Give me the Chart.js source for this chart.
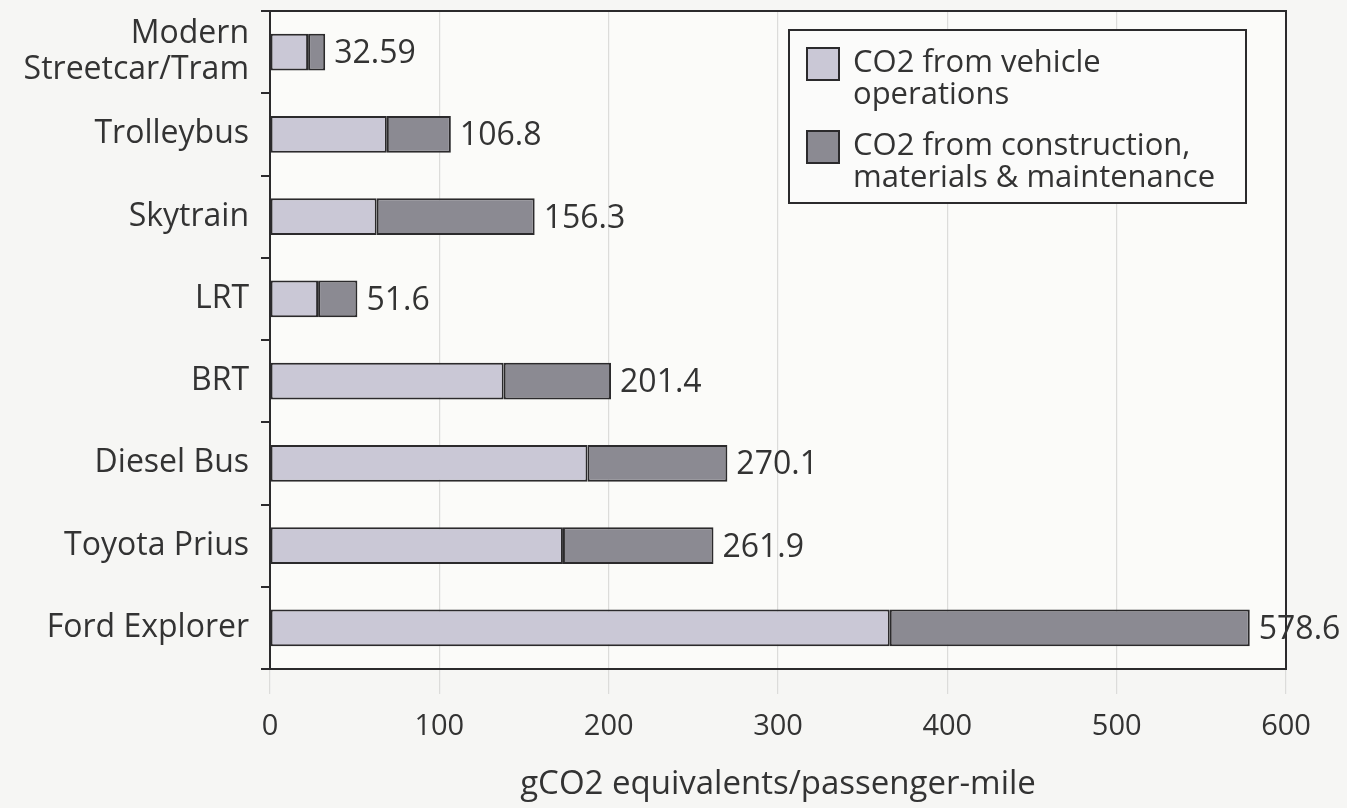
<!DOCTYPE html>
<html lang="en">
<head>
  <meta charset="UTF-8">
  <script src="https://cdn.jsdelivr.net/npm/chart.js@4.4.0/dist/chart.umd.min.js"></script>
  <style>
    html, body { margin: 0; padding: 0; background: #f6f6f4; }
    #wrap { width: 1347px; height: 808px; }
  </style>
</head>
<body>
  <div id="wrap"><canvas id="co2Chart"></canvas></div>
  <script>
    // data
    const categories = [
      ['Modern', 'Streetcar/Tram'], 'Trolleybus', 'Skytrain', 'LRT',
      'BRT', 'Diesel Bus', 'Toyota Prius', 'Ford Explorer'
    ];
    const operations = [22.5, 69, 63, 28.4, 138, 187.5, 173, 366];
    const construction = [10.09, 37.8, 93.3, 23.2, 63.4, 82.6, 88.9, 212.6];
    const totalLabels = ['32.59', '106.8', '156.3', '51.6', '201.4', '270.1', '261.9', '578.6'];
    const xTicks = [0, 100, 200, 300, 400, 500, 600];
    const seriesNames = [['CO2 from vehicle', 'operations'], ['CO2 from construction,', 'materials & maintenance']];

    const FONT = '"Open Sans", "DejaVu Sans", sans-serif';
    const lightFill = '#cac8d6';
    const darkFill = '#8b8a92';
    const edge = '#2b2a2c';

    const bgPlugin = {
      id: 'bg',
      beforeDraw(chart) {
        const c = chart.ctx;
        c.save();
        c.fillStyle = '#f6f6f4';
        c.fillRect(0, 0, chart.width, chart.height);
        const a = chart.chartArea;
        c.fillStyle = '#fbfbf9';
        c.fillRect(a.left, a.top, a.right - a.left, a.bottom - a.top);
        c.restore();
      }
    };

    const framePlugin = {
      id: 'frame',
      afterDraw(chart) {
        const c = chart.ctx, a = chart.chartArea;
        c.save();
        c.strokeStyle = edge;
        c.lineWidth = 2;
        c.strokeRect(a.left, a.top, a.right - a.left, a.bottom - a.top);

        // totals at bar ends
        const meta = chart.getDatasetMeta(1);
        c.fillStyle = '#333';
        c.font = '32px ' + FONT;
        c.textAlign = 'left';
        c.textBaseline = 'middle';
        meta.data.forEach((bar, i) => {
          c.fillText(totalLabels[i], bar.x + 9, bar.y + 2);
        });

        // legend box, top right inside the plot
        const bx = a.right - 497, by = a.top + 19, bw = 457, bh = 173;
        c.fillStyle = '#fbfbfa';
        c.fillRect(bx, by, bw, bh);
        c.strokeRect(bx, by, bw, bh);
        const fills = [lightFill, darkFill];
        c.font = '31px ' + FONT;
        c.textBaseline = 'middle';
        seriesNames.forEach((lines, k) => {
          const y0 = by + 33 + k * 83;
          c.fillStyle = fills[k];
          c.fillRect(bx + 18, y0 - 15, 32, 32);
          c.strokeStyle = edge;
          c.lineWidth = 2;
          c.strokeRect(bx + 18, y0 - 15, 32, 32);
          c.fillStyle = '#333';
          lines.forEach((t, j) => c.fillText(t, bx + 64, y0 + j * 32));
        });
        c.restore();
      }
    };

    new Chart(document.getElementById('co2Chart'), {
      type: 'bar',
      data: {
        labels: categories,
        datasets: [
          {
            label: seriesNames[0].join(' '),
            data: operations,
            backgroundColor: lightFill,
            borderColor: edge,
            borderWidth: 2,
            borderSkipped: false,
            barPercentage: 0.52,
            categoryPercentage: 0.86
          },
          {
            label: seriesNames[1].join(' '),
            data: construction,
            backgroundColor: darkFill,
            borderColor: edge,
            borderWidth: 2,
            borderSkipped: false,
            barPercentage: 0.52,
            categoryPercentage: 0.86
          }
        ]
      },
      options: {
        indexAxis: 'y',
        responsive: true,
        maintainAspectRatio: false,
        animation: false,
        layout: { padding: { top: 11, right: 61, left: 0, bottom: 0 } },
        scales: {
          x: {
            stacked: true,
            min: 0,
            max: 600,
            afterBuildTicks(axis) { axis.ticks = xTicks.map(v => ({ value: v })); },
            afterFit(axis) { axis.height = 139; },
            grid: { color: '#dcdcda', lineWidth: 1.2, tickLength: 25, drawTicks: true },
            border: { display: false },
            ticks: { color: '#333', font: { family: FONT, size: 29 }, padding: 15 },
            title: {
              display: true,
              text: 'gCO2 equivalents/passenger-mile',
              color: '#333',
              font: { family: FONT, size: 33 },
              padding: { top: 4 }
            }
          },
          y: {
            stacked: true,
            afterFit(axis) {
              axis.width = 270;
              axis.paddingTop = 0;
              axis.paddingBottom = 0;
            },
            grid: { drawOnChartArea: false, color: edge, lineWidth: 2, tickLength: 9, offset: true },
            border: { display: false },
            ticks: { color: '#333', font: { family: FONT, size: 32, lineHeight: 1.12 }, padding: 12 }
          }
        },
        plugins: {
          legend: { display: false },
          tooltip: { enabled: false }
        }
      },
      plugins: [bgPlugin, framePlugin]
    });
  </script>
</body>
</html>
